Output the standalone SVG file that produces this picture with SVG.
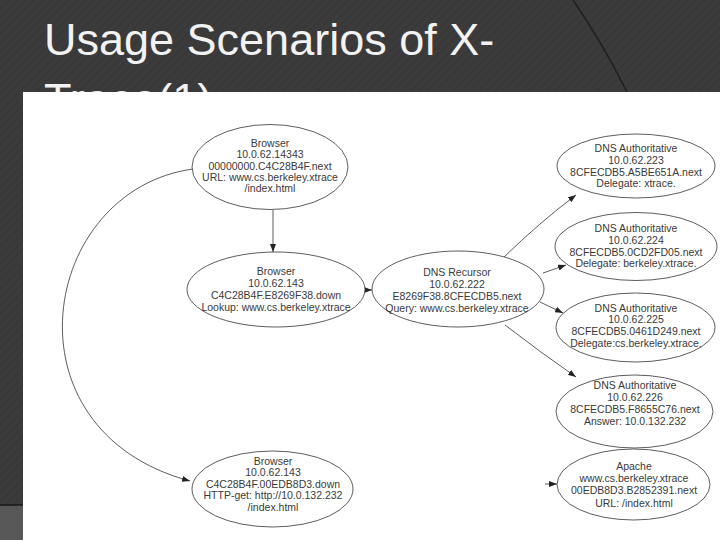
<svg xmlns="http://www.w3.org/2000/svg" width="720" height="540" viewBox="0 0 720 540">
<defs>
<pattern id="stripes" width="6" height="6" patternUnits="userSpaceOnUse" patternTransform="rotate(45)">
<rect width="6" height="6" fill="#3b3b3b"/>
<line x1="0" y1="0" x2="0" y2="6" stroke="#363636" stroke-width="2"/>
</pattern>
<marker id="arr" markerWidth="9" markerHeight="6" refX="8" refY="3" orient="auto" markerUnits="userSpaceOnUse">
<path d="M0,0 L8,3 L0,6 z" fill="#222"/>
</marker>
<style>
.title{font-family:"Liberation Sans",Arial,sans-serif;font-size:45px;fill:#f2f2f2}
.node ellipse{fill:#fff;stroke:#333;stroke-width:0.8}
.node text{font-family:"Liberation Sans",Arial,sans-serif;font-size:10.5px;fill:#3a3a3a;text-anchor:middle}
.edge{fill:none;stroke:#333;stroke-width:0.8;marker-end:url(#arr)}
</style>
</defs>
<rect width="720" height="540" fill="url(#stripes)"/>
<rect x="0" y="505" width="24" height="35" fill="#575757"/>
<line x1="0" y1="505" x2="24" y2="505" stroke="#1a1a1a" stroke-width="1.5"/>
<path d="M573,0 Q602,42 627,92" fill="none" stroke="#1e1e1e" stroke-width="1.5"/>
<text class="title" x="44" y="55">Usage Scenarios of X-</text>
<text class="title" x="44" y="115">Trace(1)</text>
<rect x="23" y="92" width="697" height="448" fill="#fff"/>
<g id="connectors">
<line class="edge" x1="273" y1="210" x2="273" y2="252"/>
<line class="edge" x1="365" y1="290" x2="372" y2="290"/>
<path class="edge" d="M503,258 Q540,222 576,195"/>
<path class="edge" d="M543,273 L566,265"/>
<path class="edge" d="M540,302 L563,313"/>
<path class="edge" d="M505,325 Q540,352 576,377"/>
<path class="edge" d="M193,169 C40,190 0,430 190,481"/>
<path class="edge" d="M545,484 L557,484"/>
</g>
<g id="browser1" class="node">
<ellipse cx="270" cy="167" rx="78" ry="42.5"/>
<text x="270" y="147">Browser</text>
<text x="270" y="158">10.0.62.14343</text>
<text x="270" y="169.5">00000000.C4C28B4F.next</text>
<text x="270" y="181">URL: www.cs.berkeley.xtrace</text>
<text x="270" y="192">/index.html</text>
</g>
<g id="browser2" class="node">
<ellipse cx="276" cy="289.5" rx="89" ry="37.5"/>
<text x="276" y="275">Browser</text>
<text x="276" y="287">10.0.62.143</text>
<text x="276" y="299">C4C28B4F.E8269F38.down</text>
<text x="276" y="311">Lookup: www.cs.berkeley.xtrace</text>
</g>
<g id="browser3" class="node">
<ellipse cx="272.5" cy="489" rx="80.5" ry="38"/>
<text x="273" y="464.5">Browser</text>
<text x="273" y="476">10.0.62.143</text>
<text x="273" y="487.5">C4C28B4F.00EDB8D3.down</text>
<text x="273" y="499">HTTP-get: http://10.0.132.232</text>
<text x="273" y="510.5">/index.html</text>
</g>
<g id="recursor" class="node">
<ellipse cx="458" cy="289" rx="86" ry="38"/>
<text x="457" y="276">DNS Recursor</text>
<text x="457" y="288">10.0.62.222</text>
<text x="457" y="300">E8269F38.8CFECDB5.next</text>
<text x="457" y="312">Query: www.cs.berkeley.xtrace</text>
</g>
<g id="auth1" class="node">
<ellipse cx="636" cy="166" rx="79" ry="32"/>
<text x="636" y="152">DNS Authoritative</text>
<text x="636" y="164">10.0.62.223</text>
<text x="636" y="175.5">8CFECDB5.A5BE651A.next</text>
<text x="636" y="187">Delegate: xtrace.</text>
</g>
<g id="auth2" class="node">
<ellipse cx="636" cy="246.5" rx="81" ry="34"/>
<text x="636" y="232">DNS Authoritative</text>
<text x="636" y="243.5">10.0.62.224</text>
<text x="636" y="255.5">8CFECDB5.0CD2FD05.next</text>
<text x="636" y="267">Delegate: berkeley.xtrace.</text>
</g>
<g id="auth3" class="node">
<ellipse cx="635.5" cy="327.5" rx="79.5" ry="34.5"/>
<text x="636" y="311.5">DNS Authoritative</text>
<text x="636" y="323">10.0.62.225</text>
<text x="636" y="335">8CFECDB5.0461D249.next</text>
<text x="636" y="347">Delegate:cs.berkeley.xtrace.</text>
</g>
<g id="auth4" class="node">
<ellipse cx="634.5" cy="411.5" rx="78.5" ry="36.5"/>
<text x="635" y="389">DNS Authoritative</text>
<text x="635" y="401">10.0.62.226</text>
<text x="635" y="413">8CFECDB5.F8655C76.next</text>
<text x="635" y="425">Answer: 10.0.132.232</text>
</g>
<g id="apache" class="node">
<ellipse cx="633.5" cy="484.5" rx="76.5" ry="35.5"/>
<text x="634" y="470">Apache</text>
<text x="634" y="482">www.cs.berkeley.xtrace</text>
<text x="634" y="494">00EDB8D3.B2852391.next</text>
<text x="634" y="506.5">URL: /index.html</text>
</g>
</svg>
